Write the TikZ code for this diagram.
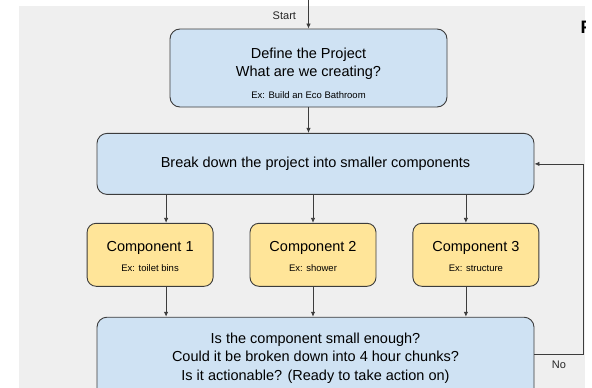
\documentclass[tikz,border=0pt]{standalone}
\usepackage{fontspec}
\setmainfont{Liberation Sans}
\usetikzlibrary{arrows.meta, positioning}

\definecolor{bggray}{HTML}{EFEFEF}
\definecolor{boxblue}{HTML}{CFE2F3}
\definecolor{boxyellow}{HTML}{FFE599}
\definecolor{edgegray}{HTML}{3C3C3C}

\newcommand{\bigtxt}{\fontsize{14.5}{18.5}\selectfont}
\newcommand{\smalltxt}{\fontsize{9.5}{12}\selectfont}

\begin{document}
\begin{tikzpicture}[x=1pt, y=-1pt,
node distance = 28pt and 36pt,
stepbox/.style = {draw=edgegray, line width=0.9pt, fill=boxblue,
                  rounded corners=10pt, align=center,
                  inner sep=0pt, font=\bigtxt},
compbox/.style = {stepbox, fill=boxyellow, rounded corners=9pt,
                  minimum width=126pt, minimum height=63pt},
flow/.style    = {draw=edgegray, line width=0.8pt,
                  -{Latex[length=5pt,width=4.5pt]}},
tag/.style     = {font=\fontsize{11}{13}\selectfont, text=black!85},
                    ]
%---
\useasboundingbox (0,0) rectangle (592,388);
\fill[bggray] (19,6) rectangle (585,388);

\node (define) [stepbox, minimum width=277pt, minimum height=78pt]
      at (308.5,68) {\rule{0pt}{21pt}Define the Project \\ What are we creating? \\[3pt]
                     {\smalltxt Ex: Build an Eco Bathroom}};
\node (brk) [stepbox, minimum width=437pt, minimum height=61pt,
             below=25.5pt of define, xshift=7pt]
      {Break down the project into smaller components};
\node (comp2) [compbox, below=28pt of brk, xshift=-2.5pt]
      {\rule{0pt}{13pt}Component 2 \\[1pt] {\smalltxt Ex: shower}};
\node (comp1) [compbox, left=of comp2]
      {\rule{0pt}{13pt}Component 1 \\[1pt] {\smalltxt Ex: toilet bins}};
\node (comp3) [compbox, right=of comp2]
      {\rule{0pt}{13pt}Component 3 \\[1pt] {\smalltxt Ex: structure}};
\node (check) [stepbox, minimum width=437pt, minimum height=82pt,
               below=30pt of comp2, xshift=2.5pt]
      {Is the component small enough? \\
       Could it be broken down into 4 hour chunks? \\
       Is it actionable? (Ready to take action on)};

\coordinate (start) at (define.north |- {0,0});
\node (startlbl) [tag, left=9pt of start, yshift=-16pt] {Start};

\begin{scope}
\clip (19,6) rectangle (585,388);
\node (fcut) [anchor=west, font=\fontsize{18}{20}\selectfont\bfseries]
      at (577,27) {F};
\end{scope}

% arrows down the chart
\draw[flow] (start) -- (define.north);
\draw[flow] (define.south) -- (define.south |- brk.north);
\draw[flow] ([xshift=16pt]comp1.north |- brk.south) -- ([xshift=16pt]comp1.north);
\draw[flow] (comp2.north |- brk.south) -- (comp2.north);
\draw[flow] ([xshift=-10pt]comp3.north |- brk.south) -- ([xshift=-10pt]comp3.north);
\draw[flow] ([xshift=16pt]comp1.south) -- ([xshift=16pt]comp1.south |- check.north);
\draw[flow] (comp2.south) -- (comp2.south |- check.north);
\draw[flow] ([xshift=-10pt]comp3.south) -- ([xshift=-10pt]comp3.south |- check.north);

% loop back
\draw[flow] ([yshift=4pt]check.east) -- node[tag, below=3pt] {No} ++(49,0)
        |- (brk.east);
\end{tikzpicture}
\end{document}
